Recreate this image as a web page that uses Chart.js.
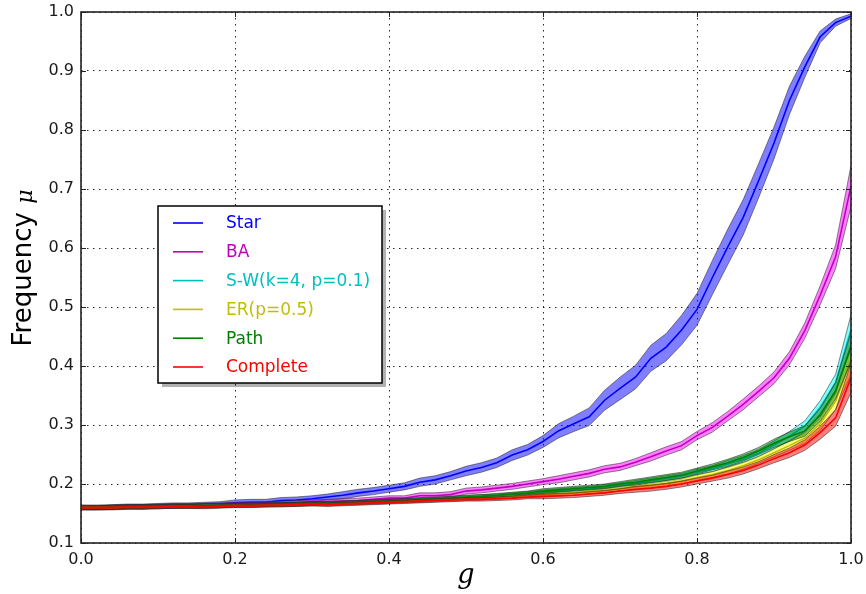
<!DOCTYPE html>
<html><head><meta charset="utf-8">
<script src="https://cdn.jsdelivr.net/npm/chart.js@4.4.0/dist/chart.umd.min.js"></script>
<style>html,body{margin:0;padding:0;background:#fff;}#wrap{width:866px;height:594px;}</style>
</head><body><div id="wrap"><canvas id="c" width="866" height="594"></canvas></div>
<script>
const gValues = [0.00,0.02,0.04,0.06,0.08,0.10,0.12,0.14,0.16,0.18,0.20,0.22,0.24,0.26,0.28,0.30,0.32,0.34,0.36,0.38,0.40,0.42,0.44,0.46,0.48,0.50,0.52,0.54,0.56,0.58,0.60,0.62,0.64,0.66,0.68,0.70,0.72,0.74,0.76,0.78,0.80,0.82,0.84,0.86,0.88,0.90,0.92,0.94,0.96,0.98,1.00];

const seriesNames = ["Star","BA","S-W(k=4, p=0.1)","ER(p=0.5)","Path","Complete"];

const starMean = [0.160,0.160,0.161,0.162,0.162,0.163,0.164,0.164,0.165,0.166,0.168,0.169,0.169,0.172,0.173,0.175,0.178,0.181,0.185,0.188,0.192,0.196,0.203,0.207,0.214,0.222,0.228,0.236,0.249,0.258,0.272,0.290,0.302,0.314,0.342,0.362,0.381,0.413,0.432,0.461,0.496,0.550,0.602,0.652,0.714,0.778,0.850,0.907,0.958,0.982,0.993];
const starSpread = [0.004,0.004,0.004,0.004,0.004,0.004,0.004,0.004,0.004,0.004,0.005,0.005,0.005,0.005,0.005,0.005,0.005,0.006,0.006,0.006,0.006,0.006,0.007,0.007,0.007,0.008,0.008,0.008,0.009,0.009,0.010,0.012,0.013,0.015,0.017,0.019,0.020,0.022,0.023,0.025,0.027,0.029,0.030,0.030,0.029,0.027,0.024,0.018,0.010,0.006,0.004];

const baMean = [0.160,0.160,0.160,0.161,0.161,0.162,0.163,0.163,0.163,0.164,0.165,0.165,0.166,0.167,0.168,0.169,0.170,0.171,0.172,0.174,0.176,0.176,0.180,0.180,0.182,0.188,0.190,0.193,0.196,0.200,0.204,0.208,0.213,0.218,0.225,0.229,0.237,0.246,0.256,0.265,0.282,0.296,0.315,0.335,0.357,0.380,0.413,0.460,0.520,0.585,0.705];
const baSpread = [0.004,0.004,0.004,0.004,0.004,0.004,0.004,0.004,0.004,0.004,0.004,0.004,0.004,0.004,0.004,0.004,0.004,0.004,0.004,0.004,0.004,0.004,0.005,0.005,0.005,0.005,0.005,0.005,0.005,0.005,0.005,0.006,0.006,0.006,0.006,0.006,0.006,0.007,0.007,0.007,0.007,0.008,0.008,0.009,0.009,0.010,0.011,0.013,0.016,0.020,0.035];

const swMean = [0.161,0.160,0.161,0.162,0.161,0.162,0.163,0.162,0.163,0.163,0.164,0.164,0.165,0.165,0.166,0.167,0.167,0.168,0.169,0.170,0.171,0.172,0.173,0.174,0.176,0.177,0.179,0.180,0.182,0.184,0.186,0.188,0.190,0.192,0.195,0.198,0.201,0.205,0.209,0.213,0.220,0.226,0.234,0.242,0.252,0.266,0.281,0.298,0.330,0.372,0.462];
const erMean = [0.160,0.160,0.160,0.161,0.161,0.162,0.162,0.162,0.163,0.163,0.164,0.164,0.164,0.165,0.165,0.166,0.166,0.167,0.168,0.169,0.170,0.171,0.172,0.173,0.174,0.175,0.176,0.177,0.179,0.180,0.182,0.183,0.185,0.187,0.189,0.192,0.195,0.198,0.201,0.205,0.211,0.216,0.223,0.231,0.241,0.253,0.265,0.278,0.302,0.340,0.410];
const pathMean = [0.160,0.160,0.161,0.161,0.162,0.162,0.162,0.163,0.163,0.164,0.164,0.165,0.165,0.166,0.166,0.167,0.168,0.168,0.169,0.170,0.171,0.172,0.174,0.175,0.176,0.178,0.179,0.181,0.183,0.185,0.188,0.190,0.192,0.194,0.196,0.200,0.203,0.207,0.211,0.215,0.222,0.229,0.236,0.245,0.256,0.269,0.280,0.290,0.317,0.358,0.432];
const completeMean = [0.160,0.160,0.160,0.161,0.161,0.161,0.162,0.162,0.161,0.162,0.163,0.163,0.164,0.164,0.165,0.166,0.165,0.166,0.167,0.168,0.169,0.170,0.171,0.172,0.173,0.174,0.174,0.175,0.176,0.178,0.179,0.180,0.181,0.183,0.185,0.188,0.191,0.193,0.196,0.200,0.205,0.210,0.216,0.223,0.232,0.243,0.253,0.266,0.287,0.312,0.380];
const groupSpread = [0.003,0.003,0.003,0.003,0.003,0.003,0.003,0.003,0.003,0.003,0.003,0.003,0.003,0.003,0.003,0.003,0.003,0.003,0.003,0.003,0.003,0.003,0.003,0.003,0.003,0.003,0.003,0.003,0.003,0.003,0.004,0.004,0.004,0.004,0.004,0.004,0.005,0.005,0.005,0.005,0.005,0.005,0.006,0.006,0.006,0.007,0.008,0.009,0.011,0.014,0.025];

const yTickLabels = ["0.1","0.2","0.3","0.4","0.5","0.6","0.7","0.8","0.9","1.0"];
const xTickLabels = ["0.0","0.2","0.4","0.6","0.8","1.0"];

const lineColors = ["#0000ff","#bf00bf","#00bfbf","#bfbf00","#008000","#ff0000"];
const fillColors = ["rgba(0,0,255,0.5)","rgba(255,0,255,0.5)","rgba(0,255,255,0.5)","rgba(255,255,0,0.5)","rgba(0,128,0,0.5)","rgba(255,0,0,0.5)"];

const means = [starMean, baMean, swMean, erMean, pathMean, completeMean];
const spreads = [starSpread, baSpread, groupSpread, groupSpread, groupSpread, groupSpread];

const datasets = [];
means.forEach((m, k) => {
  const s = spreads[k];
  const base = 100 - 10 * k;
  datasets.push({
    label: '_upper' + k, data: gValues.map((g, i) => ({x: g, y: m[i] + s[i]})),
    borderColor: 'rgba(40,40,40,0.55)', borderWidth: 1, backgroundColor: fillColors[k],
    fill: '+1', pointRadius: 0, tension: 0, order: base + 3
  });
  datasets.push({
    label: '_lower' + k, data: gValues.map((g, i) => ({x: g, y: m[i] - s[i]})),
    borderColor: 'rgba(40,40,40,0.55)', borderWidth: 1, fill: false, pointRadius: 0, tension: 0, order: base + 2
  });
  datasets.push({
    label: seriesNames[k], data: gValues.map((g, i) => ({x: g, y: m[i]})),
    borderColor: lineColors[k], borderWidth: 1.6, fill: false, pointRadius: 0, tension: 0, order: base + 1
  });
});

const framePlugin = {
  id: 'frame',
  afterDatasetsDraw(chart) {
    const {ctx, chartArea: a, scales: {x, y}} = chart;
    ctx.save();
    ctx.strokeStyle = '#222'; ctx.lineWidth = 1;
    ctx.beginPath();
    x.ticks.forEach(t => {
      const p = Math.round(x.getPixelForValue(t.value)) + 0.5;
      ctx.moveTo(p, a.bottom); ctx.lineTo(p, a.bottom - 5);
      ctx.moveTo(p, a.top); ctx.lineTo(p, a.top + 5);
    });
    y.ticks.forEach(t => {
      const p = Math.round(y.getPixelForValue(t.value)) + 0.5;
      ctx.moveTo(a.left, p); ctx.lineTo(a.left + 5, p);
      ctx.moveTo(a.right, p); ctx.lineTo(a.right - 5, p);
    });
    ctx.stroke();
    ctx.lineWidth = 1.6; ctx.strokeStyle = '#222';
    ctx.strokeRect(a.left, a.top, a.right - a.left, a.bottom - a.top);
    ctx.restore();
  },
  afterDraw(chart) {
    const {ctx, chartArea: a} = chart;
    ctx.save();
    ctx.fillStyle = '#000';
    ctx.textBaseline = 'middle';
    ctx.textAlign = 'center';
    ctx.font = 'italic 27px "DejaVu Serif"';
    ctx.fillText('g', (a.left + a.right) / 2, 576);
    ctx.translate(24, 268);
    ctx.rotate(-Math.PI / 2);
    ctx.font = '26px "DejaVu Sans"';
    const w1 = ctx.measureText('Frequency ').width;
    ctx.font = 'italic 22px "DejaVu Serif"';
    const w2 = ctx.measureText('μ').width;
    const start = -(w1 + w2) / 2;
    ctx.textAlign = 'left';
    ctx.font = '26px "DejaVu Sans"';
    ctx.fillText('Frequency ', start, 0);
    ctx.font = 'italic 22px "DejaVu Serif"';
    ctx.fillText('μ', start + w1, 2);
    ctx.restore();

    ctx.save();
    const bx = a.left + 77, by = a.top + 194, bw = 224, bh = 177;
    ctx.fillStyle = 'rgba(0,0,0,0.3)';
    ctx.fillRect(bx + 4, by + 4, bw, bh);
    ctx.fillStyle = '#fff';
    ctx.fillRect(bx, by, bw, bh);
    ctx.strokeStyle = '#000'; ctx.lineWidth = 1.5;
    ctx.strokeRect(bx, by, bw, bh);
    ctx.font = '17px "DejaVu Sans"';
    ctx.textBaseline = 'middle'; ctx.textAlign = 'left';
    const items = chart.data.datasets.filter(d => !d.label.startsWith('_'));
    items.forEach((d, i) => {
      const yy = by + 17 + i * 28.8;
      ctx.strokeStyle = d.borderColor; ctx.lineWidth = 1.6;
      ctx.beginPath(); ctx.moveTo(bx + 15, yy); ctx.lineTo(bx + 45, yy); ctx.stroke();
      ctx.fillStyle = d.borderColor;
      ctx.fillText(d.label, bx + 68, yy + 1);
    });
    ctx.restore();
  }
};

new Chart(document.getElementById('c'), {
  type: 'line',
  data: {datasets},
  options: {
    responsive: false, animation: false, devicePixelRatio: 1,
    layout: {padding: {top: 12, right: 15, left: 0, bottom: 0}},
    plugins: {legend: {display: false}, tooltip: {enabled: false}},
    scales: {
      x: {
        type: 'linear', min: 0, max: 1,
        afterFit: s => { s.height = 51; s.paddingLeft = 0; s.paddingRight = 0; },
        afterBuildTicks: s => { s.ticks = xTickLabels.map(v => ({value: parseFloat(v)})); },
        ticks: {callback: (v) => xTickLabels.find(l => Math.abs(parseFloat(l) - v) < 1e-6), font: {family: 'DejaVu Sans', size: 16}, color: '#1a1a1a', padding: 7, maxRotation: 0},
        grid: {color: 'rgba(0,0,0,0.85)', lineWidth: 1, drawTicks: false},
        border: {display: false, dash: [1.5, 4.5]}
      },
      y: {
        type: 'linear', min: 0.1, max: 1.0,
        afterFit: s => { s.width = 81; s.paddingTop = 0; s.paddingBottom = 0; },
        afterBuildTicks: s => { s.ticks = yTickLabels.map(v => ({value: parseFloat(v)})); },
        ticks: {callback: (v) => yTickLabels.find(l => Math.abs(parseFloat(l) - v) < 1e-6), font: {family: 'DejaVu Sans', size: 16}, color: '#1a1a1a', padding: 7},
        grid: {color: 'rgba(0,0,0,0.85)', lineWidth: 1, drawTicks: false},
        border: {display: false, dash: [1.5, 4.5]}
      }
    }
  },
  plugins: [framePlugin]
});
</script></body></html>
